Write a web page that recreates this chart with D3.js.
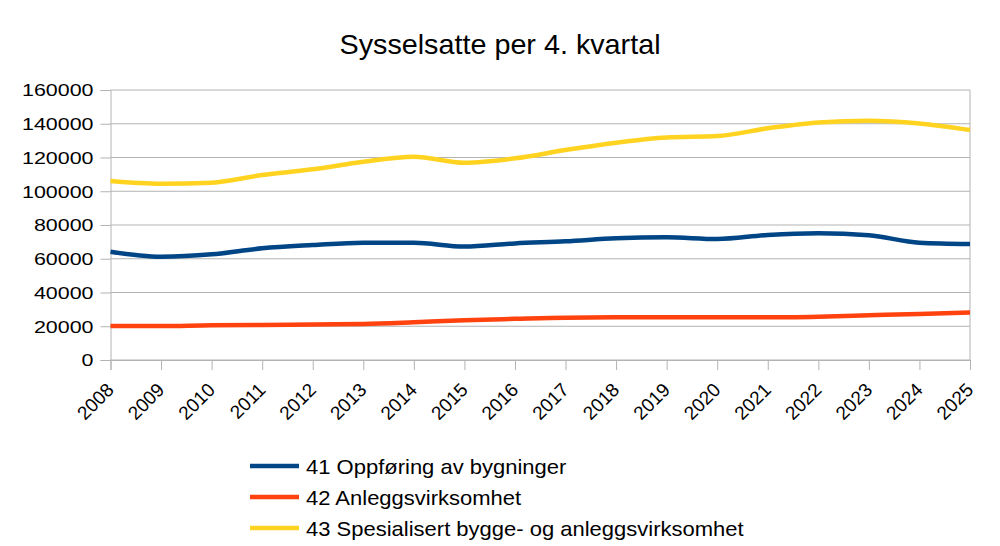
<!DOCTYPE html>
<html>
<head>
  <meta charset="utf-8">
  <title>Sysselsatte per 4. kvartal</title>
  <script src="https://d3js.org/d3.v7.min.js"></script>
  <style>
    body { margin: 0; background: #fff; }
    text { font-family: "Liberation Sans", Arial, sans-serif; fill: #000; }
  </style>
</head>
<body>
  <svg width="1000" height="546"></svg>
<script>

const years = d3.range(2008, 2026);
const yTicks = [0, 20000, 40000, 60000, 80000, 100000, 120000, 140000, 160000];

// one value per 4th quarter
const bygninger = [64200, 61200, 62600, 66200, 68100, 69500, 69500, 67200, 69100,
                   70300, 72100, 72700, 71700, 74100, 75100, 73900, 69500, 68700];
const anlegg    = [20100, 20100, 20600, 20700, 21100, 21300, 22300, 23600, 24400,
                   25100, 25300, 25300, 25300, 25300, 25700, 26500, 27300, 28200];
const spesial   = [106100, 104500, 105100, 109600, 113000, 117500, 120500, 116900, 119500,
                   124400, 128800, 131900, 132700, 137300, 140800, 141800, 140200, 136300];

const seriesNames = ['41 Oppføring av bygninger', '42 Anleggsvirksomhet',
                     '43 Spesialisert bygge- og anleggsvirksomhet'];
const seriesValues = [bygninger, anlegg, spesial];
const colors = ['#004586', '#ff420e', '#ffd320'];

let svg = d3.select('svg');

let x = d3.scaleLinear().domain([2008, 2025]).range([110.5, 970]);
let y = d3.scaleLinear().domain([0, 160000]).range([360, 90]);

// the source picture is a bit stretched sideways, so some text gets a small x scale
svg.append('text')
  .attr('transform', 'translate(500,54) scale(1.065,1)')
  .attr('text-anchor', 'middle')
  .style('font-size', '27px')
  .text('Sysselsatte per 4. kvartal');

// grid
svg.append('g')
  .selectAll('line')
  .data(yTicks)
  .join('line')
    .attr('x1', x(2008)).attr('x2', x(2025))
    .attr('y1', d => y(d)).attr('y2', d => y(d))
    .style('stroke', '#b3b3b3')
    .style('stroke-width', 1);

svg.append('line')
  .attr('x1', x(2025)).attr('x2', x(2025))
  .attr('y1', y(0)).attr('y2', y(160000))
  .style('stroke', '#b3b3b3');

// y axis
let yAxis = svg.append('g')
  .attr('transform', 'translate(' + x(2008) + ',0)')
  .call(d3.axisLeft(y).tickValues(yTicks).tickSize(10).tickFormat(d3.format('d')));
yAxis.select('.domain').style('stroke', '#b3b3b3');
yAxis.selectAll('.tick line').style('stroke', '#b3b3b3');
yAxis.selectAll('.tick text')
  .attr('x', 0)
  .attr('dy', '0.36em')
  .attr('transform', 'translate(-17,0) scale(1.34,1)')
  .style('font-size', '16px')
  .style('fill', '#000')
  .style('font-family', '"Liberation Sans", Arial, sans-serif');

// x axis
let xAxis = svg.append('g')
  .attr('transform', 'translate(0,' + y(0) + ')')
  .call(d3.axisBottom(x).tickValues(years).tickSize(10).tickFormat(d3.format('d')));
xAxis.select('.domain').style('stroke', '#b3b3b3');
xAxis.selectAll('.tick line').style('stroke', '#b3b3b3');
xAxis.selectAll('.tick text')
  .style('font-size', '19px')
  .style('fill', '#000')
  .style('font-family', '"Liberation Sans", Arial, sans-serif')
  .attr('text-anchor', 'end')
  .attr('dy', null)
  .attr('y', 0)
  .attr('transform', 'translate(4,31) rotate(-45)');

// lines
let line = d3.line()
  .x((d, i) => x(years[i]))
  .y(d => y(d))
  .curve(d3.curveMonotoneX);

seriesValues.forEach((vals, k) => {
  svg.append('path')
    .datum(vals)
    .attr('d', line)
    .style('fill', 'none')
    .style('stroke', colors[k])
    .style('stroke-width', 4.5)
    .style('stroke-linejoin', 'round');
});

// legend
let legend = svg.append('g').attr('transform', 'translate(250,466)');
seriesNames.forEach((name, k) => {
  let g = legend.append('g').attr('transform', 'translate(0,' + k * 31 + ')');
  g.append('line')
    .attr('x1', 0).attr('x2', 49)
    .attr('y1', 0).attr('y2', 0)
    .style('stroke', colors[k])
    .style('stroke-width', 4.5);
  g.append('text')
    .attr('transform', 'translate(56,8) scale(1.1,1)')
    .style('font-size', '20px')
    .text(name);
});

</script>
</body>
</html>
